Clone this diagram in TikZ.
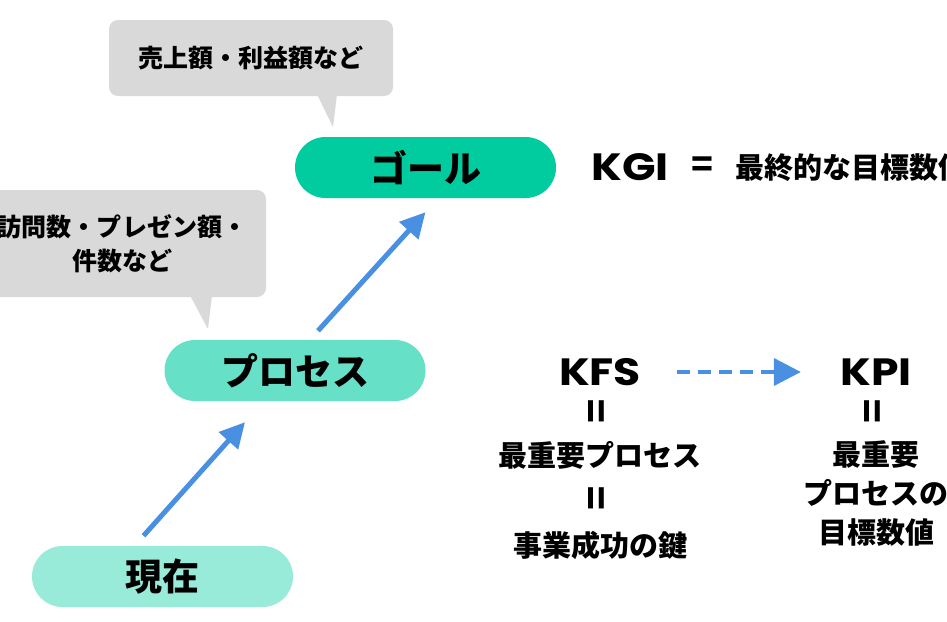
\documentclass[tikz,border=0pt]{standalone}
\usepackage{fontspec}
\newfontfamily\jpfont{Noto Sans CJK JP}
\newfontfamily\latfont{Poppins}
\usepackage{tikz}
\usetikzlibrary{positioning}
\usetikzlibrary{arrows.meta}
\definecolor{goalgreen}{RGB}{0,204,160}
\definecolor{procgreen}{RGB}{102,224,199}
\definecolor{nowgreen}{RGB}{153,235,217}
\definecolor{notegray}{RGB}{217,217,217}
\definecolor{arrowblue}{RGB}{74,144,226}
\newcommand*{\widekey}[1]{\scalebox{1.16}[1]{#1}}
\tikzset{
 pill/.style = {fill=#1, rounded corners=30.5pt, minimum width=261pt,
 minimum height=61pt, inner sep=0pt,
 font=\jpfont\bfseries\fontsize{37}{40}\selectfont},
 notebox/.style = {fill=notegray, rounded corners=9pt, inner sep=0pt,
 align=center, font=\jpfont\bfseries\fontsize{25}{34}\selectfont},
 uparrow/.style = {draw=arrowblue, line width=5pt,
 -{Triangle[length=25pt,width=25pt]}},
 keyword/.style = {font=\latfont\bfseries\fontsize{38}{40}\selectfont},
 jptext/.style = {align=center, font=\jpfont\bfseries\fontsize{29}{39}\selectfont},
 eqsign/.style = {rotate=90, font=\jpfont\bfseries\fontsize{40}{42}\selectfont}
}

\begin{document}
\begin{tikzpicture}[x=1pt,y=1pt]
\fill[white] (0,0) rectangle (947,-621);
\useasboundingbox (0,0) rectangle (947,-621);

% callouts
\node[notebox, minimum width=284pt, minimum height=76pt] (salesnote) at (251,-58) {売上額・利益額など};
\fill[notegray, rounded corners=2pt] ([xshift=66pt,yshift=2pt]salesnote.south) -- ([xshift=82pt,yshift=-31pt]salesnote.south) -- ([xshift=86pt,yshift=2pt]salesnote.south) -- cycle;

\node[notebox, minimum width=288pt, minimum height=107pt] (visitnote) at (122,-243.5) {訪問数・プレゼン額・\\件数など};
\fill[notegray, rounded corners=2pt] ([xshift=68pt,yshift=2pt]visitnote.south) -- ([xshift=86pt,yshift=-32pt]visitnote.south) -- ([xshift=90pt,yshift=2pt]visitnote.south) -- cycle;

% steps
\node[pill=goalgreen] (goal) at (425.5,-167.5) {ゴール};
\node[pill=procgreen] (proc) at (295,-370.5) {プロセス};
\node[pill=nowgreen] (now) at (162.5,-576.5) {現在};

\draw[uparrow] ([xshift=-19pt,yshift=10pt]now.north) -- ([xshift=-50pt,yshift=-21pt]proc.south);
\draw[uparrow] ([xshift=23pt,yshift=9pt]proc.north) -- ([yshift=-14pt]goal.south);

% KGI
\node[keyword] (kgi) at (630,-167) {\widekey{KGI}};
\node[font=\jpfont\bfseries\fontsize{36}{38}\selectfont] (kgieq) at (702,-167) {=};
\node[jptext, anchor=west, inner sep=0pt] (kgitext) at (735,-168) {最終的な目標数値};

% KFS / KPI
\node[keyword] (kfs) at (600,-372) {\widekey{KFS}};
\node[eqsign] (kfseqa) at (600,-411) {=};
\node[jptext] (kfsproc) at (600,-455) {最重要プロセス};
\node[eqsign] (kfseqb) at (600,-498) {=};
\node[jptext] (kfskey) at (600,-545) {事業成功の鍵};

\node[keyword] (kpi) at (876,-372) {\widekey{KPI}};
\node[eqsign] (kpieq) at (876,-411) {=};
\node[jptext] (kpitext) at (876,-494) {最重要\\プロセスの\\目標数値};

\draw[draw=arrowblue, line width=4pt, dash pattern=on 13pt off 8pt,
 -{Triangle[length=27pt,width=27pt]}] ([xshift=32pt]kfs.east) -- ([xshift=-36pt]kpi.west);
\end{tikzpicture}
\end{document}
